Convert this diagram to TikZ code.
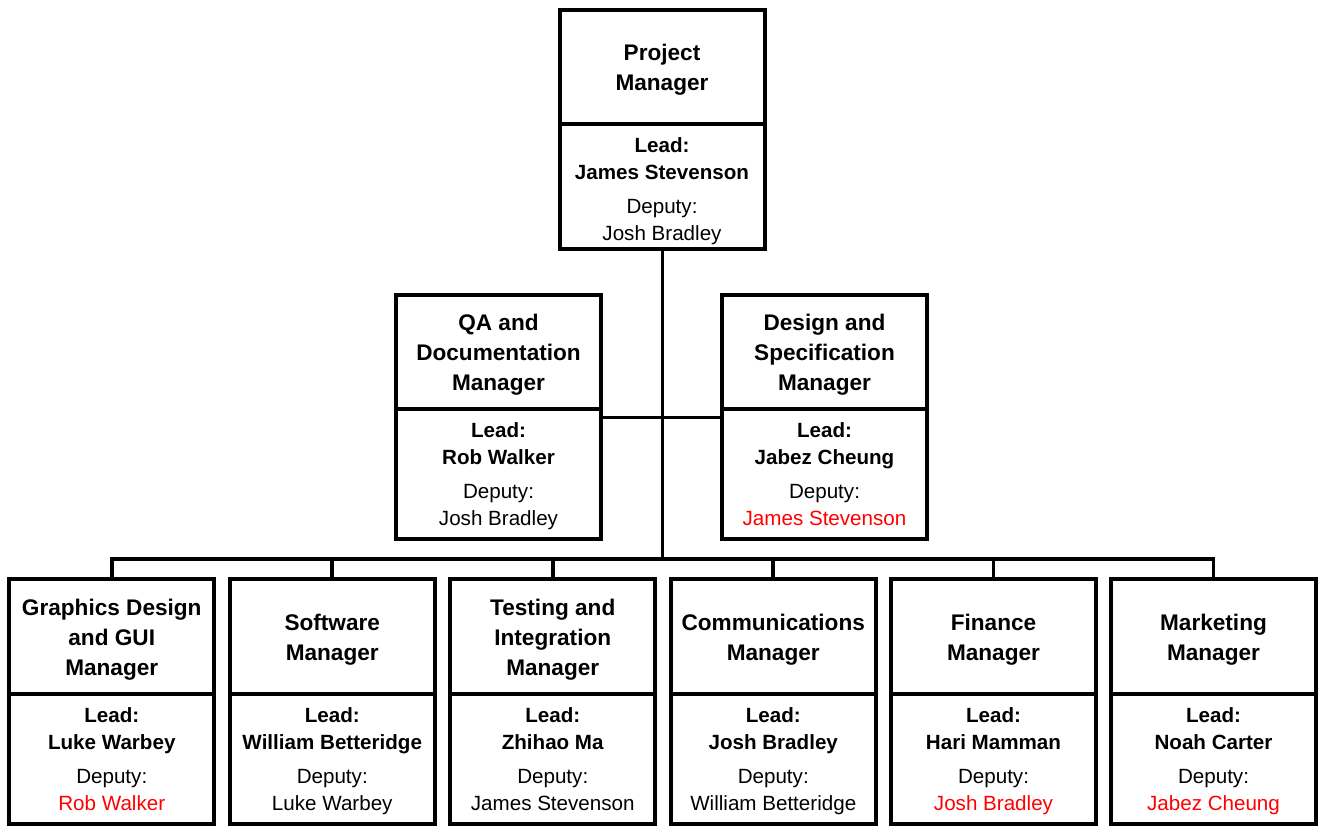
\documentclass[tikz,border=0pt]{standalone}
\usepackage{fontspec}
\setmainfont{Liberation Sans}
\definecolor{depred}{HTML}{FF0000}
\newcommand{\orgbox}[7]{%
  \node[titlebox, minimum height=#4, anchor=north] (#1T) at (#2,#3) {#6};
  \node[infobox, minimum height=#5, anchor=north] (#1B) at (#1T.south) {#7};}
\newcommand{\topstrut}[1]{\rule{0pt}{#1}}
\newcommand{\botstrut}{\rule[-5pt]{0pt}{5pt}}
\newcommand{\info}[4]{\topstrut{#1}\textbf{Lead:}\\\textbf{#2}\\[7pt]Deputy:\\\textcolor{#4}{#3}\botstrut}
\newcommand{\ttl}[1]{\topstrut{22pt}#1\botstrut}
\begin{document}
\begin{tikzpicture}[x=1pt,y=-1pt,
  boxbase/.style={draw=black, line width=4pt, rectangle, minimum width=205pt, outer sep=0pt, inner sep=0pt, align=center, fill=white},
  titlebox/.style={boxbase, font=\fontsize{22.6}{30}\selectfont\bfseries},
  infobox/.style={boxbase, font=\fontsize{20.6}{27}\selectfont},
  link/.style={draw=black, line width=3.6pt}]
\useasboundingbox (0,0) rectangle (1327,834);
\coordinate (hub) at (662.5,417.5);
\coordinate (bus) at (662.5,559);
% boxes
\orgbox{pm}{662}{10}{114}{125}{\ttl{Project\\Manager}}{\info{25.4pt}{James Stevenson}{Josh Bradley}{black}}
\orgbox{qa}{498.5}{295}{114}{130}{\ttl{QA and\\Documentation\\Manager}}{\info{20.4pt}{Rob Walker}{Josh Bradley}{black}}
\orgbox{ds}{824.5}{295}{114}{130}{\ttl{Design and\\Specification\\Manager}}{\info{20.4pt}{Jabez Cheung}{James Stevenson}{depred}}
\orgbox{gf}{111.75}{579}{115}{130}{\ttl{Graphics Design\\and GUI\\Manager}}{\info{20.4pt}{Luke Warbey}{Rob Walker}{depred}}
\orgbox{sw}{332.25}{579}{115}{130}{\ttl{Software\\Manager}}{\info{20.4pt}{William Betteridge}{Luke Warbey}{black}}
\orgbox{ti}{552.75}{579}{115}{130}{\ttl{Testing and\\Integration\\Manager}}{\info{20.4pt}{Zhihao Ma}{James Stevenson}{black}}
\orgbox{cm}{773.25}{579}{115}{130}{\ttl{Communications\\Manager}}{\info{20.4pt}{Josh Bradley}{William Betteridge}{black}}
\orgbox{fn}{993.5}{579}{115}{130}{\ttl{Finance\\Manager}}{\info{20.4pt}{Hari Mamman}{Josh Bradley}{depred}}
\orgbox{mk}{1213.5}{579}{115}{130}{\ttl{Marketing\\Manager}}{\info{20.4pt}{Noah Carter}{Jabez Cheung}{depred}}
% connectors
\draw[link] (pmB.south -| bus) -- (bus);
\draw[link] (qaB.east |- hub) -- (dsB.west |- hub);
\draw[link, line cap=rect] (gfT.north |- bus) -- (mkT.north |- bus);
\foreach \n in {gf,sw,ti,cm,fn,mk}{
  \draw[link] (\n T.north |- bus) -- (\n T.north);
}
\end{tikzpicture}
\end{document}
